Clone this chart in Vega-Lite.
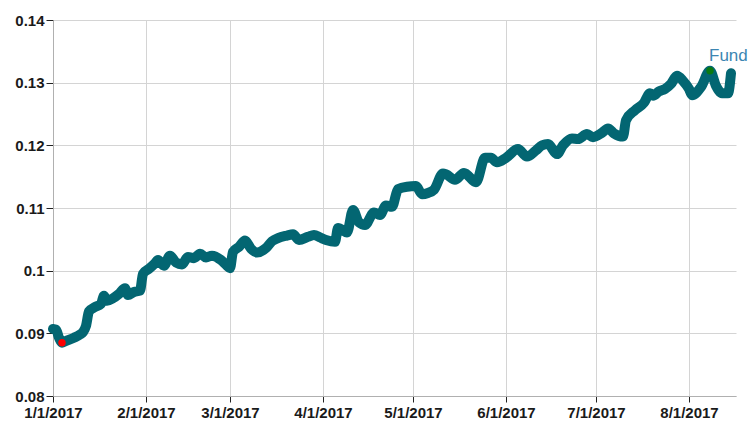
{
  "$schema": "https://vega.github.io/schema/vega-lite/v6.json",
  "width": 683,
  "height": 376,
  "autosize": "none",
  "padding": {"left": 53, "top": 20, "right": 16, "bottom": 27},
  "background": "white",
  "config": {
    "view": {"stroke": null},
    "font": "Liberation Sans",
    "axis": {
      "labelFont": "Liberation Sans",
      "labelFontWeight": "bold",
      "labelFontSize": 15,
      "labelColor": "#1a1a1a",
      "gridColor": "#d4d4d4",
      "gridWidth": 1,
      "domainColor": "#b0b0b0",
      "tickColor": "#222222",
      "title": null
    }
  },
  "data": {
    "values": [
      {"date": "2017/01/01", "value": 0.0907},
      {"date": "2017/01/02", "value": 0.0906},
      {"date": "2017/01/03", "value": 0.0893},
      {"date": "2017/01/04", "value": 0.0885},
      {"date": "2017/01/05", "value": 0.0887},
      {"date": "2017/01/06", "value": 0.0889},
      {"date": "2017/01/08", "value": 0.0893},
      {"date": "2017/01/10", "value": 0.0898},
      {"date": "2017/01/11", "value": 0.0902},
      {"date": "2017/01/12", "value": 0.0912},
      {"date": "2017/01/13", "value": 0.0935},
      {"date": "2017/01/15", "value": 0.0942},
      {"date": "2017/01/17", "value": 0.0947},
      {"date": "2017/01/18", "value": 0.0960},
      {"date": "2017/01/19", "value": 0.0952},
      {"date": "2017/01/21", "value": 0.0956},
      {"date": "2017/01/23", "value": 0.0963},
      {"date": "2017/01/25", "value": 0.0972},
      {"date": "2017/01/26", "value": 0.0961},
      {"date": "2017/01/28", "value": 0.0966},
      {"date": "2017/01/30", "value": 0.0968},
      {"date": "2017/01/31", "value": 0.0995},
      {"date": "2017/02/02", "value": 0.1003},
      {"date": "2017/02/04", "value": 0.1012},
      {"date": "2017/02/05", "value": 0.1017},
      {"date": "2017/02/07", "value": 0.1008},
      {"date": "2017/02/09", "value": 0.1024},
      {"date": "2017/02/11", "value": 0.1013},
      {"date": "2017/02/13", "value": 0.1010},
      {"date": "2017/02/15", "value": 0.1022},
      {"date": "2017/02/17", "value": 0.1020},
      {"date": "2017/02/19", "value": 0.1027},
      {"date": "2017/02/21", "value": 0.1021},
      {"date": "2017/02/23", "value": 0.1024},
      {"date": "2017/02/26", "value": 0.1017},
      {"date": "2017/02/28", "value": 0.1008},
      {"date": "2017/03/01", "value": 0.1004},
      {"date": "2017/03/02", "value": 0.1030},
      {"date": "2017/03/04", "value": 0.1038},
      {"date": "2017/03/06", "value": 0.1048},
      {"date": "2017/03/08", "value": 0.1035},
      {"date": "2017/03/10", "value": 0.1029},
      {"date": "2017/03/13", "value": 0.1036},
      {"date": "2017/03/15", "value": 0.1047},
      {"date": "2017/03/17", "value": 0.1052},
      {"date": "2017/03/20", "value": 0.1056},
      {"date": "2017/03/22", "value": 0.1058},
      {"date": "2017/03/24", "value": 0.1049},
      {"date": "2017/03/27", "value": 0.1054},
      {"date": "2017/03/29", "value": 0.1057},
      {"date": "2017/03/31", "value": 0.1053},
      {"date": "2017/04/02", "value": 0.1049},
      {"date": "2017/04/05", "value": 0.1046},
      {"date": "2017/04/06", "value": 0.1068},
      {"date": "2017/04/09", "value": 0.1061},
      {"date": "2017/04/11", "value": 0.1097},
      {"date": "2017/04/13", "value": 0.1077},
      {"date": "2017/04/15", "value": 0.1073},
      {"date": "2017/04/18", "value": 0.1093},
      {"date": "2017/04/20", "value": 0.1089},
      {"date": "2017/04/22", "value": 0.1104},
      {"date": "2017/04/24", "value": 0.1102},
      {"date": "2017/04/26", "value": 0.1130},
      {"date": "2017/04/29", "value": 0.1134},
      {"date": "2017/05/02", "value": 0.1135},
      {"date": "2017/05/04", "value": 0.1122},
      {"date": "2017/05/06", "value": 0.1124},
      {"date": "2017/05/08", "value": 0.1129},
      {"date": "2017/05/11", "value": 0.1155},
      {"date": "2017/05/12", "value": 0.1154},
      {"date": "2017/05/15", "value": 0.1145},
      {"date": "2017/05/18", "value": 0.1156},
      {"date": "2017/05/22", "value": 0.1141},
      {"date": "2017/05/25", "value": 0.1180},
      {"date": "2017/05/27", "value": 0.1180},
      {"date": "2017/05/29", "value": 0.1173},
      {"date": "2017/06/01", "value": 0.1180},
      {"date": "2017/06/05", "value": 0.1194},
      {"date": "2017/06/08", "value": 0.1182},
      {"date": "2017/06/11", "value": 0.1192},
      {"date": "2017/06/13", "value": 0.1200},
      {"date": "2017/06/15", "value": 0.1202},
      {"date": "2017/06/18", "value": 0.1186},
      {"date": "2017/06/20", "value": 0.1200},
      {"date": "2017/06/23", "value": 0.1211},
      {"date": "2017/06/25", "value": 0.1210},
      {"date": "2017/06/28", "value": 0.1218},
      {"date": "2017/06/30", "value": 0.1213},
      {"date": "2017/07/03", "value": 0.1220},
      {"date": "2017/07/05", "value": 0.1227},
      {"date": "2017/07/07", "value": 0.1219},
      {"date": "2017/07/10", "value": 0.1214},
      {"date": "2017/07/11", "value": 0.1240},
      {"date": "2017/07/14", "value": 0.1256},
      {"date": "2017/07/17", "value": 0.1268},
      {"date": "2017/07/19", "value": 0.1283},
      {"date": "2017/07/20", "value": 0.1279},
      {"date": "2017/07/22", "value": 0.1286},
      {"date": "2017/07/24", "value": 0.1290},
      {"date": "2017/07/26", "value": 0.1298},
      {"date": "2017/07/28", "value": 0.1311},
      {"date": "2017/07/30", "value": 0.1303},
      {"date": "2017/08/01", "value": 0.1290},
      {"date": "2017/08/02", "value": 0.1280},
      {"date": "2017/08/05", "value": 0.1293},
      {"date": "2017/08/08", "value": 0.1319},
      {"date": "2017/08/10", "value": 0.1295},
      {"date": "2017/08/12", "value": 0.1283},
      {"date": "2017/08/14", "value": 0.1283},
      {"date": "2017/08/15", "value": 0.1315}
    ]
  },
  "encoding": {
    "x": {
      "field": "date",
      "type": "temporal",
      "scale": {"domain": [{"year": 2017, "month": 1, "date": 1}, {"year": 2017, "month": 8, "date": 16, "hours": 16}]},
      "axis": {
        "format": "%-m/%-d/%Y",
        "tickCount": {"interval": "month", "step": 1},
        "tickSize": 6,
        "labelPadding": 3,
        "labelFlush": false,
        "labelOverlap": false
      }
    },
    "y": {
      "field": "value",
      "type": "quantitative",
      "scale": {"domain": [0.08, 0.14], "nice": false, "zero": false},
      "axis": {
        "values": [0.08, 0.09, 0.1, 0.11, 0.12, 0.13, 0.14],
        "format": "~g",
        "tickSize": 7,
        "labelPadding": 2
      }
    }
  },
  "layer": [
    {
      "mark": {"type": "line", "color": "#036672", "strokeWidth": 10, "strokeCap": "round", "strokeJoin": "round", "interpolate": "monotone"}
    },
    {
      "transform": [
        {"joinaggregate": [{"op": "min", "field": "value", "as": "vmin"}]},
        {"filter": "datum.value === datum.vmin"}
      ],
      "mark": {"type": "circle", "color": "#ff0000", "opacity": 1, "size": 55}
    },
    {
      "transform": [
        {"joinaggregate": [{"op": "max", "field": "value", "as": "vmax"}]},
        {"filter": "datum.value === datum.vmax"}
      ],
      "layer": [
        {"mark": {"type": "circle", "color": "#0a7a12", "opacity": 1, "size": 55}},
        {
          "mark": {"type": "text", "text": "Fund", "align": "left", "baseline": "alphabetic", "dx": -1, "dy": -10, "fontSize": 17, "font": "Liberation Sans", "color": "#3c86b2"}
        }
      ]
    }
  ]
}
